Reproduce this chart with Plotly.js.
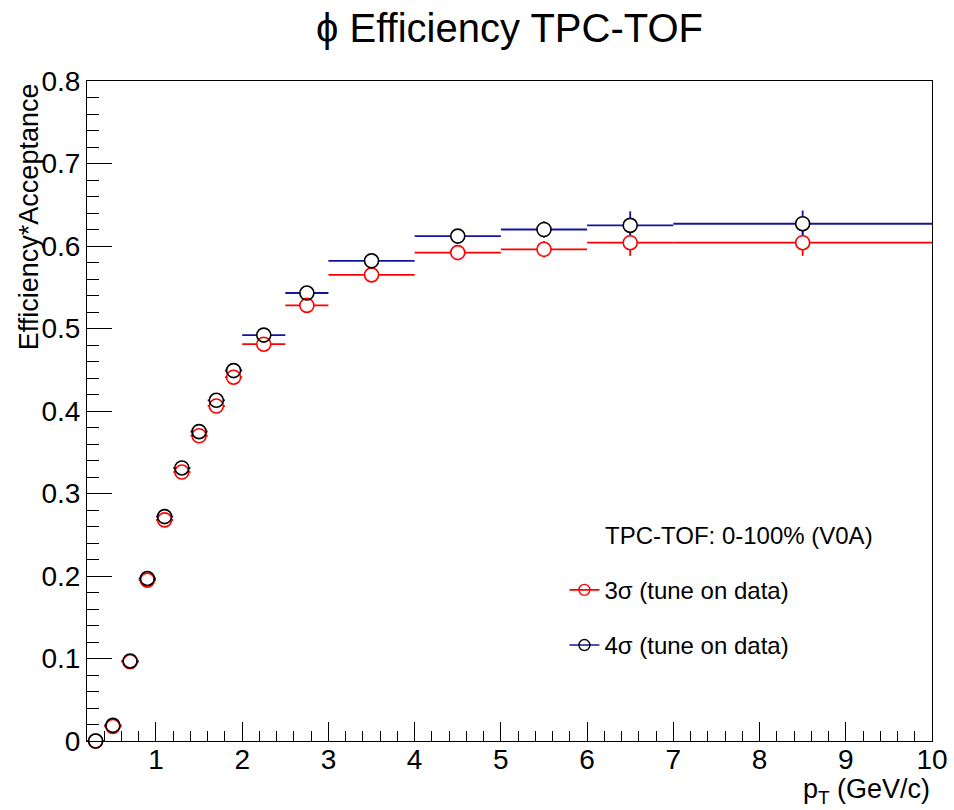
<!DOCTYPE html>
<html>
<head>
<meta charset="utf-8">
<script src="https://cdn.plot.ly/plotly-3.0.1.min.js"></script>
<style>html,body{margin:0;padding:0;background:#fff;}#chart{width:954px;height:810px;}</style>
</head>
<body>
<div id="chart"></div>
<script>
// pT bin centres and half widths (GeV/c)
var ptCenters   = [0.3, 0.5, 0.7, 0.9, 1.1, 1.3, 1.5, 1.7, 1.9, 2.25, 2.75, 3.5, 4.5, 5.5, 6.5, 8.5];
var ptHalfWidth = [0.1, 0.1, 0.1, 0.1, 0.1, 0.1, 0.1, 0.1, 0.1, 0.25, 0.25, 0.5, 0.5, 0.5, 0.5, 1.5];

// Efficiency*Acceptance, 3 sigma (tune on data)
var eff3sigma = [0.0, 0.0175, 0.096, 0.195, 0.268, 0.326, 0.370, 0.406, 0.441, 0.481, 0.528, 0.565, 0.592, 0.596, 0.604, 0.604];
var err3sigma = [0.001, 0.001, 0.002, 0.003, 0.003, 0.003, 0.003, 0.004, 0.004, 0.003, 0.004, 0.004, 0.005, 0.010, 0.016, 0.016];

// Efficiency*Acceptance, 4 sigma (tune on data)
var eff4sigma = [0.0, 0.019, 0.097, 0.197, 0.272, 0.331, 0.375, 0.413, 0.449, 0.492, 0.543, 0.582, 0.612, 0.620, 0.625, 0.627];
var err4sigma = [0.001, 0.001, 0.002, 0.003, 0.003, 0.003, 0.003, 0.004, 0.004, 0.003, 0.004, 0.004, 0.005, 0.010, 0.017, 0.016];

var seriesNames = ['3\u03c3 (tune on data)', '4\u03c3 (tune on data)'];
var legendHeader = 'TPC-TOF: 0-100% (V0A)';

var RED = '#ff0000', BLUE = '#1414a0', BLACK = '#000000';
var FONT = 'Liberation Sans, Arial, Helvetica, sans-serif';
var MSIZE = 14;

// error bars only (markers transparent)
function errorTrace(y, err, lineColor) {
  return {
    type: 'scatter', mode: 'markers', x: ptCenters, y: y,
    showlegend: false, cliponaxis: false, hoverinfo: 'skip',
    error_x: {type: 'data', array: ptHalfWidth, visible: true, color: lineColor, thickness: 1.8, width: 0},
    error_y: {type: 'data', array: err, visible: true, color: lineColor, thickness: 1.8, width: 0},
    marker: {size: 1, color: 'rgba(0,0,0,0)'}
  };
}
// white mask so error lines do not run through the marker (as ROOT draws them)
function maskTrace(y) {
  return {
    type: 'scatter', mode: 'markers', x: ptCenters, y: y,
    showlegend: false, cliponaxis: false, hoverinfo: 'skip',
    marker: {symbol: 'circle', size: MSIZE, color: '#ffffff', line: {width: 0}}
  };
}
// open circle markers
function markerTrace(y, markerColor) {
  return {
    type: 'scatter', mode: 'markers', x: ptCenters, y: y,
    showlegend: false, cliponaxis: false,
    marker: {symbol: 'circle-open', size: MSIZE, color: markerColor, line: {width: 1.6, color: markerColor}},
    hoverinfo: 'x+y'
  };
}
function legendTrace(name, group, markerColor, lineColor) {
  return {
    type: 'scatter', mode: 'lines+markers', x: [null], y: [null], name: name,
    legendgroup: group, showlegend: true,
    line: {color: lineColor, width: 1.6},
    marker: {symbol: 'circle-open', size: 11, color: markerColor, line: {width: 1.4, color: markerColor}}
  };
}

var traces = [
  errorTrace(eff3sigma, err3sigma, RED),
  errorTrace(eff4sigma, err4sigma, BLUE),
  maskTrace(eff3sigma),
  maskTrace(eff4sigma),
  markerTrace(eff3sigma, RED),
  markerTrace(eff4sigma, BLACK),
  legendTrace(seriesNames[0], 'a', RED, RED),
  legendTrace(seriesNames[1], 'b', BLACK, BLUE)
];

var axisCommon = {
  showgrid: false, zeroline: false, showline: true, linecolor: '#000', linewidth: 1,
  mirror: true, ticks: 'inside', tickcolor: '#000', tickwidth: 1,
  tickfont: {family: FONT, size: 28, color: '#000'}
};

var layout = {
  width: 954, height: 810,
  paper_bgcolor: '#fff', plot_bgcolor: '#fff',
  margin: {l: 87, r: 22, t: 81, b: 69},
  font: {family: FONT, color: '#000'},
  title: {text: '\u03d5 Efficiency TPC-TOF', font: {family: FONT, size: 40, color: '#000'},
          x: 0.5, xref: 'paper', xanchor: 'center', y: 0.965, yanchor: 'middle'},
  xaxis: Object.assign({}, axisCommon, {
    range: [0.2, 10], dtick: 1, tick0: 0, ticklen: 19, ticklabelstandoff: -7,
    minor: {dtick: 0.2, tick0: 0, ticklen: 10, ticks: 'inside', tickcolor: '#000', tickwidth: 1, showgrid: false}
  }),
  yaxis: Object.assign({}, axisCommon, {
    range: [0, 0.8], dtick: 0.1, tick0: 0, ticklen: 25,
    minor: {dtick: 0.02, tick0: 0, ticklen: 12, ticks: 'inside', tickcolor: '#000', tickwidth: 1, showgrid: false}
  }),
  showlegend: true,
  legend: {
    x: 0.565, xanchor: 'left', y: 0.2625, yanchor: 'top',
    bgcolor: 'rgba(0,0,0,0)', borderwidth: 0,
    font: {family: FONT, size: 24, color: '#000'},
    tracegroupgap: 21, itemsizing: 'trace'
  },
  annotations: [
    {text: 'Efficiency*Acceptance', textangle: -90, xref: 'paper', yref: 'paper',
     x: -0.069, xanchor: 'center', y: 1, yanchor: 'top', showarrow: false,
     font: {family: FONT, size: 27, color: '#000'}},
    {text: 'p<sub>T</sub> (GeV/c)', xref: 'paper', yref: 'paper',
     x: 1, xanchor: 'right', y: -0.0765, yanchor: 'middle', showarrow: false,
     font: {family: FONT, size: 27, color: '#000'}},
    {text: legendHeader, xref: 'paper', yref: 'paper',
     x: 0.611, xanchor: 'left', y: 0.312, yanchor: 'middle', showarrow: false,
     font: {family: FONT, size: 24, color: '#000'}}
  ]
};

Plotly.newPlot('chart', traces, layout, {displayModeBar: false, staticPlot: true});
</script>
</body>
</html>
